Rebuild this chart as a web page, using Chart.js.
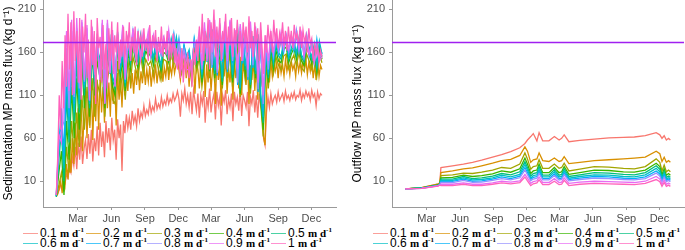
<!DOCTYPE html>
<html>
<head>
<meta charset="utf-8">
<script src="https://cdn.jsdelivr.net/npm/chart.js@4.4.1/dist/chart.umd.min.js"></script>
<style>
body { margin: 0; background: #fff; }
#wrap { position: relative; width: 685px; height: 250px; overflow: hidden; font-family: "Liberation Sans", Arial, sans-serif; }
#c1 { position: absolute; left: 0; top: 0; }
#c2 { position: absolute; left: 342px; top: 0; }
.item { position: absolute; height: 14px; line-height: 14px; font-size: 12px; white-space: nowrap; color: #000; }
.key { display: inline-block; width: 15px; height: 0; border-top: 1.5px solid; vertical-align: middle; margin-right: 2px; opacity: .7; }
.item b { font-family: "Liberation Serif", serif; font-size: 11px; }
.item sup { font-family: "Liberation Serif", serif; font-weight: bold; font-size: 7px; line-height: 0; }
</style>
</head>
<body>
<div id="wrap">
  <canvas id="c1" width="342" height="225"></canvas>
  <canvas id="c2" width="343" height="225"></canvas>
  <div id="leg1"></div>
  <div id="leg2"></div>
</div>
<script>
// series (settling velocity, m d-1) and ggplot colours
const seriesLabels = ['0.1', '0.2', '0.3', '0.4', '0.5', '0.6', '0.7', '0.8', '0.9', '1'];
const seriesColors = ['#F8766D', '#D89000', '#A3A500', '#39B600', '#00BF7D', '#00BFC4', '#00B0F6', '#9590FF', '#E76BF3', '#FF62BC'];

// x axis: days from 1 Jan of the first year
const tickDays = [59, 151, 243, 334, 424, 516, 608, 699];
const tickLabels = ['Mar', 'Jun', 'Sep', 'Dec', 'Mar', 'Jun', 'Sep', 'Dec'];
const yTicks = [10, 60, 110, 160, 210];
const refLevel = 171.5;

// left panel: sedimentation
// 0.1, 0.2 and 1 read every 4 days, the others every 7 days
const sedDaysFine = [];
for (let d = 0; d <= 728; d += 4) sedDaysFine.push(d);
const sedDays = [];
for (let d = 0; d <= 728; d += 7) sedDays.push(d);

const sed01 = [-6, -4, 0, 5, 3, 12, 8, 18, 14, 25,
  20, 38, 28, 50, 24, 55, 35, 62, 30, 48,
  58, 36, 65, 42, 70, 33, 60, 45, 74, 40,
  78, 50, 68, 38, 80, 55, 72, 46, 84, 58,
  70, 35, 82, 60, 76, 22, 80, 66, 88, 72,
  84, 70, 92, 78, 86, 74, 95, 80, 90, 84,
  98, 86, 93, 88, 102, 90, 97, 92, 106, 94,
  100, 95, 108, 97, 104, 99, 110, 100, 106, 102,
  112, 104, 108, 115, 106, 85, 112, 104, 118, 100,
  110, 96, 114, 88, 116, 104, 92, 112, 84, 110,
  100, 115, 78, 108, 96, 118, 90, 104, 112, 82,
  114, 98, 108, 75, 110, 102, 116, 88, 106, 96,
  112, 80, 114, 100, 108, 92, 118, 86, 110, 104,
  96, 114, 74, 108, 100, 116, 90, 110, 84, 112,
  98, 104, 60, 52, 90, 108, 96, 112, 100, 106,
  110, 102, 114, 104, 108, 112, 103, 115, 106, 110,
  104, 112, 107, 114, 105, 110, 108, 116, 104, 112,
  107, 115, 109, 113, 104, 116, 108, 112, 98, 114,
  106, 112, 110];
const sed02 = [-8, -5, 2, 10, -4, 18, 6, 30, 12, 45,
  20, 60, 30, 78, 40, 95, 50, 108, 45, 88,
  115, 60, 105, 72, 122, 58, 118, 80, 128, 70,
  132, 90, 120, 78, 135, 95, 125, 85, 138, 100,
  130, 75, 136, 105, 130, 96, 140, 110, 134, 115,
  142, 118, 136, 112, 140, 122, 145, 116, 138, 124,
  146, 122, 140, 126, 144, 120, 138, 128, 146, 124,
  140, 130, 148, 126, 142, 132, 150, 128, 144, 134,
  150, 136, 146, 152, 140, 128, 150, 138, 155, 130,
  148, 120, 152, 135, 145, 112, 150, 140, 118, 148,
  130, 154, 108, 146, 125, 152, 115, 140, 150, 100,
  152, 128, 145, 98, 150, 132, 155, 112, 142, 125,
  150, 105, 152, 130, 146, 118, 155, 110, 148, 135,
  122, 150, 100, 145, 128, 152, 115, 148, 105, 150,
  120, 140, 62, 52, 115, 145, 125, 150, 132, 146,
  138, 148, 130, 150, 136, 146, 132, 152, 138, 148,
  134, 150, 140, 146, 132, 152, 138, 148, 136, 150,
  140, 152, 134, 148, 138, 150, 130, 146, 128, 150,
  132, 145, 140];
const sed03 = [-7, 5, 20, -2, 50, 20, 80, 40, 90, 50, 110, 70, 120, 75, 130,
  85, 125, 112, 140, 85, 128, 145, 105, 100, 150, 115, 138, 105, 152, 125,
  155, 142, 130, 158, 135, 152, 145, 150, 135, 155, 140, 128, 152, 150, 138,
  158, 145, 160, 145, 135, 158, 142, 150, 125, 155, 138, 155, 120, 145, 160,
  130, 165, 125, 158, 145, 118, 162, 130, 160, 120, 150, 165, 108, 160, 128,
  150, 112, 158, 125, 160, 100, 62, 145, 118, 158, 135, 155, 145, 140, 156,
  158, 141, 150, 157, 144, 160, 142, 138, 158, 150, 140, 155, 132, 158, 148];
const sed04 = [-8, 20, 45, -6, 80, 35, 120, 60, 130, 70, 150, 95, 155, 85, 160,
  110, 150, 132, 165, 95, 140, 158, 120, 110, 168, 130, 150, 115, 162, 140,
  168, 150, 142, 170, 145, 162, 155, 160, 145, 165, 150, 138, 160, 158, 148,
  165, 152, 168, 150, 140, 160, 148, 155, 130, 165, 145, 162, 125, 150, 168,
  138, 175, 130, 165, 152, 122, 172, 138, 170, 125, 160, 175, 112, 170, 135,
  160, 118, 168, 130, 170, 105, 70, 155, 125, 165, 142, 162, 150, 148, 164,
  166, 148, 158, 165, 152, 168, 150, 145, 166, 158, 147, 162, 138, 165, 152];
const sed05 = [-8, 35, 70, 10, 110, 55, 140, 80, 150, 90, 165, 110, 165, 95, 170,
  120, 160, 142, 175, 100, 152, 170, 128, 118, 175, 138, 155, 120, 168, 148,
  175, 160, 148, 176, 150, 168, 158, 166, 150, 170, 155, 142, 166, 163, 152,
  172, 158, 174, 155, 145, 165, 152, 160, 135, 170, 150, 168, 130, 156, 175,
  142, 182, 135, 172, 160, 126, 180, 142, 176, 130, 166, 182, 116, 176, 140,
  166, 122, 174, 135, 176, 108, 78, 160, 130, 170, 146, 167, 156, 152, 169,
  171, 152, 162, 170, 156, 173, 154, 149, 171, 162, 151, 166, 142, 169, 155];
const sed06 = [-7, 45, 85, 25, 130, 70, 155, 90, 165, 100, 175, 118, 172, 100, 178,
  126, 166, 150, 182, 104, 160, 176, 132, 122, 180, 142, 160, 124, 173, 152,
  180, 165, 152, 180, 153, 172, 160, 170, 153, 174, 158, 145, 170, 168, 155,
  176, 161, 178, 158, 148, 168, 155, 163, 138, 174, 153, 172, 134, 160, 180,
  146, 187, 139, 177, 165, 130, 185, 146, 180, 134, 170, 187, 119, 181, 144,
  170, 125, 179, 139, 181, 111, 85, 164, 134, 174, 150, 171, 160, 155, 173,
  175, 155, 165, 174, 159, 177, 157, 152, 175, 166, 154, 170, 145, 173, 158];
const sed07 = [-7, 52, 95, 40, 145, 85, 170, 100, 178, 110, 185, 122, 180, 103, 184,
  130, 172, 132, 188, 102, 188, 135, 178, 122, 184, 145, 182, 126, 176, 155,
  184, 155, 182, 155, 176, 164, 174, 155, 176, 160, 172, 157, 176, 160, 180,
  163, 182, 156, 176, 150, 168, 154, 160, 138, 176, 156, 175, 137, 184, 149,
  192, 142, 181, 133, 190, 149, 184, 137, 192, 147, 180, 122, 185, 147, 174,
  128, 183, 142, 186, 114, 174, 92, 168, 137, 177, 153, 174, 158, 176, 160,
  178, 158, 178, 162, 181, 160, 178, 155, 179, 156, 172, 148, 175, 152, 160];
const sed08 = [-6, 58, 70, 80, 165, 95, 185, 108, 188, 118, 195, 126, 188, 104, 188,
  134, 178, 132, 194, 101, 194, 136, 182, 121, 182, 147, 188, 128, 174, 156,
  186, 156, 178, 154, 180, 166, 178, 156, 178, 162, 170, 158, 174, 161, 182,
  164, 180, 156, 172, 148, 164, 150, 152, 140, 172, 158, 178, 140, 188, 152,
  196, 145, 186, 136, 194, 152, 188, 140, 196, 150, 184, 125, 190, 150, 178,
  131, 188, 145, 190, 117, 176, 100, 172, 140, 180, 156, 176, 161, 178, 163,
  180, 161, 176, 165, 186, 162, 180, 158, 180, 158, 170, 150, 170, 154, 158];
const sed09 = [-6, 64, 55, 115, 185, 115, 198, 112, 200, 124, 198, 128, 192, 104, 190,
  137, 182, 128, 198, 100, 198, 136, 186, 120, 181, 148, 192, 129, 175, 156,
  188, 158, 180, 152, 183, 166, 185, 157, 180, 164, 164, 159, 177, 161, 186,
  156, 172, 146, 162, 142, 158, 140, 140, 147, 156, 165, 185, 145, 195, 150,
  198, 160, 198, 140, 192, 160, 196, 150, 198, 155, 186, 140, 193, 160, 186,
  140, 196, 155, 188, 125, 186, 110, 180, 150, 182, 160, 180, 165, 184, 166,
  178, 164, 180, 170, 180, 165, 182, 155, 172, 158, 165, 148, 162, 150, 155];
const sed10 = [-6, 40, 110, 70, 150, 95, 180, 120, 205, 140,
  195, 110, 208, 150, 185, 125, 200, 105, 190, 160,
  205, 130, 175, 115, 198, 145, 185, 100, 200, 165,
  178, 125, 192, 140, 170, 118, 188, 150, 196, 135,
  180, 160, 195, 140, 175, 155, 190, 148, 185, 165,
  195, 150, 178, 160, 190, 145, 185, 168, 180, 155,
  188, 162, 176, 150, 192, 158, 180, 165, 186, 150,
  178, 160, 190, 155, 175, 162, 185, 150, 170, 158,
  182, 148, 165, 140, 158, 130, 165, 125, 150, 138,
  160, 130, 152, 120, 165, 145, 175, 150, 190, 160,
  205, 150, 185, 165, 200, 140, 195, 170, 210, 155,
  190, 165, 200, 150, 185, 172, 205, 160, 190, 168,
  200, 155, 188, 170, 198, 160, 185, 150, 195, 172,
  190, 160, 202, 165, 185, 155, 195, 170, 188, 150,
  195, 165, 135, 180, 160, 192, 170, 185, 160, 198,
  172, 188, 165, 182, 170, 195, 168, 185, 162, 190,
  170, 185, 165, 192, 175, 182, 168, 190, 165, 186,
  172, 180, 160, 188, 170, 176, 150, 172, 158, 168,
  148, 162, 155];

// right panel: outflow
const outDays = [0, 45, 90, 95, 98, 130, 160, 185, 210, 240, 265, 290, 315, 329, 336,
  345, 352, 362, 368, 378, 395, 410, 423, 430, 437, 450, 480, 520, 560, 600,
  630, 660, 690, 700, 706, 712, 718, 724, 729];

const out01 = [1, 2.5, 7, 8, 26, 28, 30, 32, 34.5, 38, 41, 44.5, 49, 54, 58,
  62, 65.5, 57, 66.5, 57, 57, 62, 58, 60, 64, 56, 57.5, 59, 60.5, 61,
  61.5, 63, 66.5, 64, 60, 63, 58, 60, 58];
const out02 = [1, 2.4, 6.5, 7.5, 20, 22, 24.5, 25.5, 28, 31, 34, 35.5, 40, 50, 45,
  32, 35, 36, 43, 34, 33, 37, 33, 34, 38.5, 30.5, 32, 34, 35, 36,
  37, 38, 45, 42, 33, 38, 32, 34, 32];
const out03 = [1, 2.3, 6, 7, 16.5, 17.5, 19.5, 19, 20.5, 23, 26, 25, 30, 43, 36,
  24, 27, 28, 35, 25, 25, 30, 25, 26, 31, 22, 24, 27, 26.5, 25,
  24.5, 27, 36, 32, 22, 29, 21, 23, 21];
const out04 = [1, 2.2, 5.8, 6.8, 14, 14.5, 17, 15.5, 16.5, 18.5, 22, 20.5, 24.5, 37, 30,
  19, 22, 23, 30, 20, 20, 26, 20, 21, 27, 18, 20, 23, 22.5, 21,
  20.5, 23, 31, 27, 17.5, 24.5, 17, 19, 17];
const out05 = [1, 2.1, 5.5, 6.5, 12.5, 12.5, 15.5, 13, 14, 16, 19, 17.5, 21, 33, 26,
  16, 19, 20, 27, 17, 17, 23.5, 17, 18, 24.5, 15.5, 17.5, 20, 19.5, 18,
  17.5, 20, 28, 24, 15, 21.5, 14.5, 16, 14.5];
const out06 = [1, 2, 5.3, 6.2, 11, 11, 14, 11.5, 12, 14, 17, 15, 18, 29.5, 23,
  13.5, 16.5, 17.5, 24, 15, 15, 21, 15, 15.5, 22, 13.5, 15.5, 17.5, 17, 15.5,
  15, 17.5, 25, 21, 12.5, 19, 12.5, 14, 12.5];
const out07 = [1, 1.9, 5, 6, 9.8, 9.8, 12.5, 10, 10.5, 12.5, 15, 13, 16, 26, 20,
  12, 14.5, 15.5, 21.5, 13, 13, 18.5, 13, 13.5, 19.5, 12, 13.5, 15.5, 15, 13.5,
  13, 15, 22, 18.5, 11, 17, 11, 12.5, 11];
const out08 = [1, 1.8, 4.8, 5.8, 8.5, 8.5, 11, 8.8, 9, 11, 13, 11.5, 14, 23, 17.5,
  10.5, 12.5, 13.5, 19, 11.5, 11.5, 16.5, 11.5, 12, 17.5, 10.5, 12, 13.5, 13, 12,
  11.5, 13, 19.5, 16, 9.5, 15, 9.5, 11, 9.5];
const out09 = [1, 1.7, 4.6, 5.6, 6.5, 6.5, 8, 6.5, 6.5, 8, 10, 9, 10.5, 18, 13.5,
  7.5, 9.5, 10.5, 15, 8.5, 8.5, 13, 8.5, 9, 14, 7.5, 9, 10, 9.5, 9,
  8.5, 10, 15.5, 12.5, 6.5, 11.5, 6.5, 8, 6.5];
const out10 = [1, 1.6, 4.4, 5.4, 5, 5, 6.5, 5, 5, 6.5, 8, 7, 8.5, 15, 10.5,
  5, 7, 8, 11.5, 6, 6, 10, 6, 6.5, 11, 5, 6.5, 7.5, 7, 6.5,
  6, 7.5, 12, 9.5, 4, 8.5, 4, 5.5, 4];

const sedSeries = [sed01, sed02, sed03, sed04, sed05, sed06, sed07, sed08, sed09, sed10];
const sedSeriesDays = [sedDaysFine, sedDaysFine, sedDays, sedDays, sedDays, sedDays, sedDays, sedDays, sedDays, sedDaysFine];
const outSeries = [out01, out02, out03, out04, out05, out06, out07, out08, out09, out10];
const outSeriesDays = outSeries.map(() => outDays);

const xMin = -36.5, xMax = 766.5;
const fam = '"Liberation Sans", Arial, sans-serif';
const axisGrey = '#9a9a9a';

function makeChart(id, daysList, series, yWidth, yTitle, titlePad, rightPad, lw) {
  const datasets = series.map((vals, k) => ({
    label: seriesLabels[k],
    data: daysList[k].map((d, i) => ({ x: d, y: vals[i] })),
    borderColor: seriesColors[k],
    borderWidth: lw,
    pointRadius: 0,
    fill: false,
    order: 10 - k
  }));
  datasets.push({
    label: 'ref',
    data: [{ x: xMin, y: refLevel }, { x: xMax, y: refLevel }],
    borderColor: '#A020F0',
    borderWidth: 1.5,
    pointRadius: 0,
    order: -1
  });

  new Chart(document.getElementById(id), {
    type: 'line',
    data: { datasets: datasets },
    options: {
      responsive: false,
      animation: false,
      layout: { padding: { left: 0, right: rightPad, top: 0, bottom: 0 } },
      plugins: { legend: { display: false }, tooltip: { enabled: false } },
      scales: {
        x: {
          type: 'linear',
          min: xMin,
          max: xMax,
          afterBuildTicks: a => { a.ticks = tickDays.map(v => ({ value: v })); },
          afterFit: s => { s.height = 18; s.paddingLeft = 0; s.paddingRight = 0; },
          ticks: {
            autoSkip: false, maxRotation: 0, padding: 2,
            color: '#4d4d4d', font: { size: 11, family: fam },
            callback: v => tickLabels[tickDays.indexOf(v)]
          },
          grid: { drawOnChartArea: false, drawTicks: true, tickLength: 3, color: axisGrey },
          border: { display: true, color: axisGrey }
        },
        y: {
          min: -20,
          max: 221,
          afterBuildTicks: a => { a.ticks = yTicks.map(v => ({ value: v })); },
          afterFit: s => { s.width = yWidth; s.paddingTop = 0; s.paddingBottom = 0; },
          ticks: { padding: 4, color: '#4d4d4d', font: { size: 11, family: fam } },
          title: {
            display: true, text: yTitle, color: '#000',
            font: { size: 12, family: fam },
            padding: { top: titlePad, bottom: 0 }
          },
          grid: { drawOnChartArea: false, drawTicks: true, tickLength: 3, color: axisGrey },
          border: { display: true, color: axisGrey }
        }
      }
    }
  });
}

makeChart('c1', sedSeriesDays, sedSeries, 43, 'Sedimentation MP mass flux (kg d\u207B\u00B9)', 1, 6, 1.3);
makeChart('c2', outSeriesDays, outSeries, 50, 'Outflow MP mass flux (kg d\u207B\u00B9)', 8, 1, 1.3);

function buildLegend(el, cols) {
  seriesLabels.forEach((lab, k) => {
    const d = document.createElement('div');
    d.className = 'item';
    d.style.left = cols[k % 5] + 'px';
    d.style.top = (k < 5 ? 226 : 236) + 'px';
    d.innerHTML = '<span class="key" style="border-color:' + seriesColors[k] + '"></span>' +
      lab + ' <b>m d</b><sup>-1</sup>';
    el.appendChild(d);
  });
}
buildLegend(document.getElementById('leg1'), [23, 86, 147, 209, 271]);
buildLegend(document.getElementById('leg2'), [373, 435, 497, 558, 619]);
</script>
</body>
</html>
